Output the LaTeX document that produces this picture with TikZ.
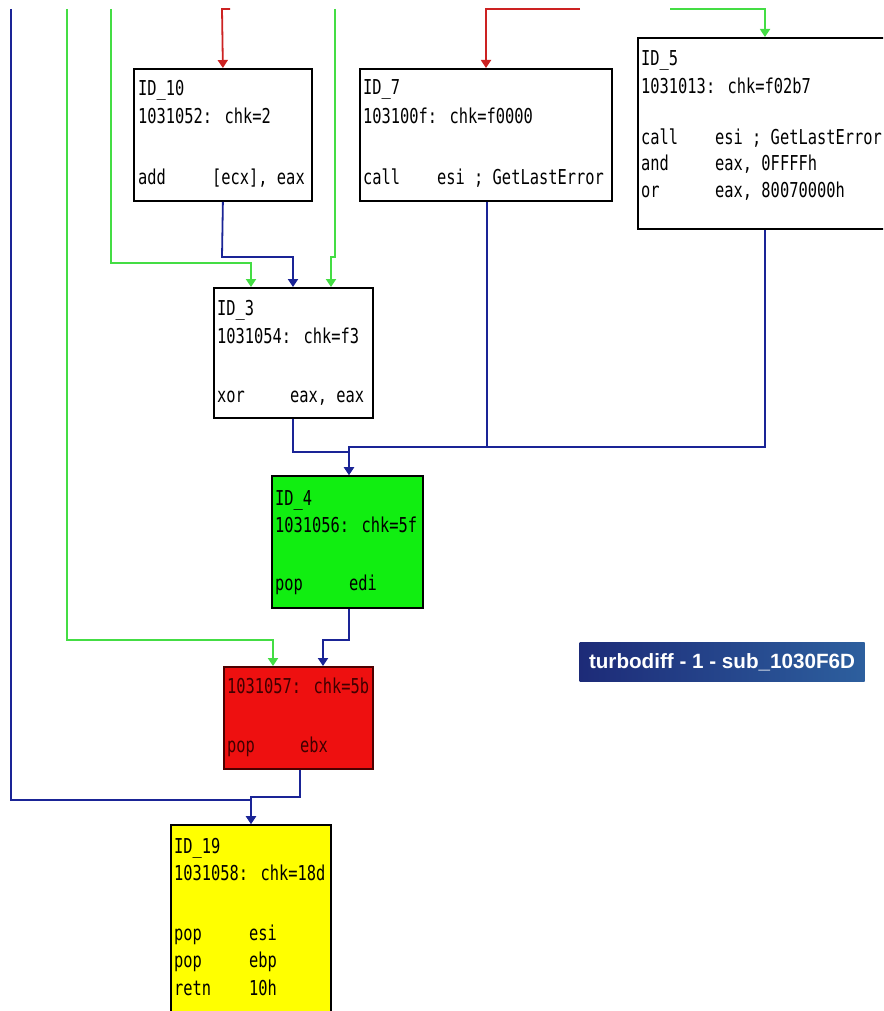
\documentclass[tikz,border=0pt]{standalone}
\usepackage{fontspec}
\usepackage{graphicx}
\usetikzlibrary{arrows.meta,calc}
\newfontfamily\asmfont[FakeStretch=0.75]{DejaVu Sans Mono}
\newfontfamily\lblfont{Liberation Sans}
\definecolor{cblue}{HTML}{1A2496}
\definecolor{cgreen}{HTML}{44DD44}
\definecolor{cred}{HTML}{CC2222}
\definecolor{bgreen}{HTML}{11EE11}
\definecolor{bred}{HTML}{EE1010}
\definecolor{byellow}{HTML}{FFFF00}
\definecolor{lblleft}{HTML}{1D2B78}
\definecolor{lblright}{HTML}{2D5F9E}
\tikzset{
  blk/.style={draw=black, line width=1.8pt, fill=white, inner sep=0pt, anchor=north west},
  asm/.style={anchor=base west, inner sep=0pt, font=\asmfont\fontsize{20.5}{20.5}\selectfont},
  bl/.style={draw=cblue, line width=1.8pt},
  gr/.style={draw=cgreen, line width=1.8pt},
  rd/.style={draw=cred, line width=1.8pt},
  tip/.style={-{Triangle[width=10pt,length=8pt]}}
}
\begin{document}
\begin{tikzpicture}[x=1pt,y=-1pt]
\useasboundingbox (0,0) rectangle (883,1011);
\begin{scope}
\clip (0,0) rectangle (883,1011);
% boxes
\node[blk, minimum width=178pt, minimum height=132pt] (n10) at (133,68) {};
\node[blk, minimum width=252pt, minimum height=132pt] (n7) at (359,68) {};
\node[blk, minimum width=290pt, minimum height=191pt] (n5) at (637,37) {};
\node[blk, minimum width=159pt, minimum height=130pt] (n3) at (213,287) {};
\node[blk, fill=bgreen, minimum width=151pt, minimum height=132pt] (n4) at (271,475) {};
\node[blk, fill=bred, draw=black!70!red, minimum width=149pt, minimum height=102pt] (nr) at (223,666) {};
\node[blk, fill=byellow, minimum width=160pt, minimum height=200pt] (n19) at (170,824) {};

% free ends
\coordinate (tA) at (11,9);
\coordinate (tC) at (67,9);
\coordinate (tE) at (111,9);
\coordinate (tG) at (335,9);
\coordinate (tH) at (230,9);
\coordinate (tI) at (580,9);
\coordinate (tJ) at (670,9);

% connectors
\draw[bl,tip] (tA) -- (11,800) -| ($(n19.north west)+(81,0)$);
\draw[bl,tip] ($(nr.south west)+(77,0)$) -- (300,797) -| ($(n19.north west)+(81,0)$);
\draw[gr,tip] (tC) -- (67,640) -| ($(nr.north west)+(50,0)$);
\draw[bl,tip] ($(n4.south west)+(78,0)$) -- (349,640) -| ($(nr.north west)+(100,0)$);
\draw[gr,tip] (tE) -- (111,263) -| ($(n3.north west)+(38,0)$);
\draw[bl,tip] (n10.south) -- (222,257) -| ($(n3.north west)+(80,0)$);
\draw[gr,tip] (tG) -- (335,257) -- (331,257) -- ($(n3.north west)+(118,0)$);
\draw[rd,tip] (tH) -- (222,9) -- (n10.north);
\draw[rd,tip] (tI) -| ($(n7.north west)+(127,0)$);
\draw[gr,tip] (tJ) -| ($(n5.north west)+(128,0)$);
\draw[bl] ($(n5.south west)+(128,0)$) -- (765,447) -- (487,447);
\draw[bl,tip] ($(n7.south west)+(128,0)$) -- (487,447) -| ($(n4.north west)+(78,0)$);
\draw[bl,tip] ($(n3.south west)+(80,0)$) -- (293,452) -| ($(n4.north west)+(78,0)$);

% texts ID_10
\node[asm] (a10a) at (138,96) {ID\_10};
\node[asm] (a10b) at (138,124) {1031052: chk=2};
\node[asm] (a10c) at (138,185) {add};
\node[asm] (a10d) at (212,185) {[ecx], eax};
% ID_7
\node[asm] (a7a) at (363,95) {ID\_7};
\node[asm] (a7b) at (363,124) {103100f: chk=f0000};
\node[asm] (a7c) at (363,185) {call};
\node[asm] (a7d) at (437,185) {esi ; GetLastError};
% ID_5
\node[asm] (a5a) at (641,66) {ID\_5};
\node[asm] (a5b) at (641,94) {1031013: chk=f02b7};
\node[asm] (a5c) at (641,145) {call};
\node[asm] (a5d) at (715,145) {esi ; GetLastError};
\node[asm] (a5e) at (641,171) {and};
\node[asm] (a5f) at (715,171) {eax, 0FFFFh};
\node[asm] (a5g) at (641,197) {or};
\node[asm] (a5h) at (715,197) {eax, 80070000h};
% ID_3
\node[asm] (a3a) at (217,315) {ID\_3};
\node[asm] (a3b) at (217,343) {1031054: chk=f3};
\node[asm] (a3c) at (217,402) {xor};
\node[asm] (a3d) at (290,402) {eax, eax};
% ID_4
\node[asm] (a4a) at (275,505) {ID\_4};
\node[asm] (a4b) at (275,532) {1031056: chk=5f};
\node[asm] (a4c) at (275,590) {pop};
\node[asm] (a4d) at (349,590) {edi};
% red
\node[asm, text=black!75!red] (arb) at (227,693) {1031057: chk=5b};
\node[asm, text=black!75!red] (arc) at (227,752) {pop};
\node[asm, text=black!75!red] (ard) at (300,752) {ebx};
% ID_19
\node[asm] (a19a) at (174,853) {ID\_19};
\node[asm] (a19b) at (174,880) {1031058: chk=18d};
\node[asm] (a19c) at (174,940) {pop};
\node[asm] (a19d) at (249,940) {esi};
\node[asm] (a19e) at (174,967) {pop};
\node[asm] (a19f) at (249,967) {ebp};
\node[asm] (a19g) at (174,995) {retn};
\node[asm] (a19h) at (249,995) {10h};

% label
\node[left color=lblleft, right color=lblright, minimum width=285pt, minimum height=39pt, inner sep=0pt, text=white] (lbl) at (722,662)
  {\resizebox{266pt}{!}{\lblfont\bfseries turbodiff - 1 - sub\_1030F6D}};
\end{scope}
\end{tikzpicture}
\end{document}
